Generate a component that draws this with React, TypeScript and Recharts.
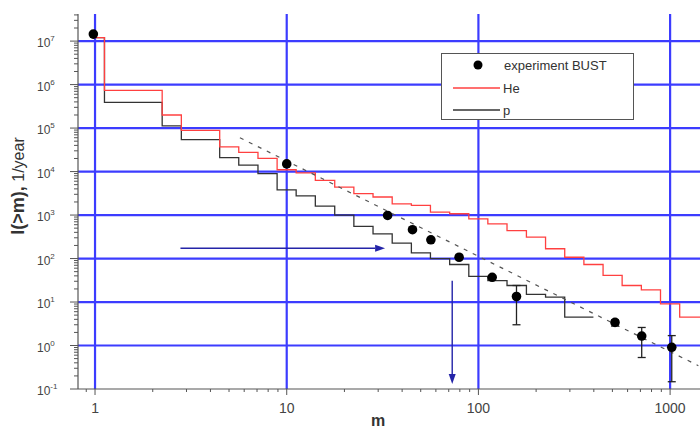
import React from 'react';
import { ComposedChart, Line, Scatter, XAxis, YAxis, ReferenceLine, ErrorBar, Legend } from 'recharts';

// He step histogram (bin start m, integral rate I(>m))
const heEdges = [0.97, 1.12, 2.24, 2.82, 4.47, 5.62, 7.08, 8.91, 11.2, 14.1, 17.8, 22.4, 28.2, 35.5, 44.7, 56.2, 70.8, 89.1, 112, 141, 178, 224, 282, 355, 447, 562, 708, 891, 1122];
const heValues = [1.2e7, 7.4e5, 2.0e5, 8.9e4, 3.7e4, 2.75e4, 2.0e4, 1.1e4, 9.3e3, 6.3e3, 4.4e3, 3.1e3, 2.6e3, 1.8e3, 1.67e3, 1.17e3, 1.07e3, 820, 630, 440, 310, 168, 107, 73, 41, 24, 19, 9.1, 4.5];
const heEnd = 1432;

// p step histogram
const pEdges = [0.97, 1.12, 2.24, 2.82, 4.47, 5.62, 7.08, 8.91, 11.2, 14.1, 17.8, 22.4, 28.2, 35.5, 44.7, 56.2, 70.8, 89.1, 112, 141, 178, 224, 282];
const pValues = [1.2e7, 3.9e5, 1.12e5, 5.4e4, 2.1e4, 1.4e4, 9.0e3, 3.8e3, 2.75e3, 1.6e3, 1.0e3, 550, 370, 225, 135, 100, 73, 39, 31, 24, 15, 13, 4.5];
const pEnd = 398;

// dashed power-law fit
const fitM = [5.7, 1404];
const fitI = [6.0e4, 0.344];

// experiment BUST points
const expM = [0.98, 10, 33.6, 45.3, 56.5, 79.3, 118, 158, 516, 711, 1020];
const expI = [1.45e7, 1.5e4, 980, 460, 270, 107, 37, 13.4, 3.4, 1.65, 0.91];
const expLo: (number | null)[] = [null, null, null, null, null, null, null, 3.0, 2.8, 0.53, 0.147];
const expHi: (number | null)[] = [null, null, null, null, null, null, null, 24, 3.9, 2.6, 1.69];

// arrows
const arrowHM = [2.79, 32.6];
const arrowHI = 173;
const arrowVM = 73;
const arrowVI = [31, 0.13];

// axes
const xDomain = [0.815, 1432];
const yDomain = [0.1, 4.2e7];
const xDecades = [1, 10, 100, 1000];
const xTickLabels = ['1', '10', '100', '1000'];
const yDecades = [0.1, 1, 10, 100, 1e3, 1e4, 1e5, 1e6, 1e7];
const yExponents = ['-1', '0', '1', '2', '3', '4', '5', '6', '7'];
const mantissas = [1, 2, 3, 4, 5, 6, 7, 8, 9];

const FONT = '"Liberation Sans", Arial, sans-serif';

const stepData = (edges: number[], vals: number[], end: number) => {
  const d = edges.map((m, i) => ({ m, v: vals[i] }));
  d.push({ m: end, v: vals[vals.length - 1] });
  return d;
};
const heData = stepData(heEdges, heValues, heEnd);
const pData = stepData(pEdges, pValues, pEnd);
const fitData = fitM.map((m, i) => ({ m, v: fitI[i] }));
const expData = expM.map((m, i) => ({
  m,
  v: expI[i],
  err: expLo[i] != null && expHi[i] != null ? [expI[i] - (expLo[i] as number), (expHi[i] as number) - expI[i]] : undefined,
}));

const buildTicks = (lo: number, hi: number) => {
  const out: number[] = [];
  for (let e = -2; e <= 8; e++) {
    for (const k of mantissas) {
      const v = parseFloat((k * Math.pow(10, e)).toPrecision(6));
      if (v >= lo && v <= hi) out.push(v);
    }
  }
  return out;
};
const xTicks = buildTicks(xDomain[0], xDomain[1]);
const yTicks = buildTicks(yDomain[0], yDomain[1]);

const isDecade = (v: number) => Math.abs(Math.log10(v) - Math.round(Math.log10(v))) < 1e-6;
const decIndex = (arr: number[], v: number) => arr.findIndex((d) => Math.abs(Math.log10(d) - Math.log10(v)) < 1e-6);

const XTick = (props: any) => {
  const { x, y, payload } = props;
  const v = payload.value;
  const idx = decIndex(xDecades, v);
  const major = isDecade(v);
  return (
    <g>
      <line x1={x} x2={x} y1={y} y2={y + (major ? 6 : 3)} stroke="#555" strokeWidth={1} />
      {idx >= 0 && (
        <text x={x} y={y + 24} textAnchor="middle" fontSize={14} fill="#444" fontFamily={FONT}>
          {xTickLabels[idx]}
        </text>
      )}
    </g>
  );
};

const YTick = (props: any) => {
  const { x, y, payload } = props;
  const v = payload.value;
  const idx = decIndex(yDecades, v);
  const major = idx >= 0;
  return (
    <g>
      <line x1={x - (major ? 8 : 4)} x2={x} y1={y} y2={y} stroke="#555" strokeWidth={1} />
      {major && (
        <text x={x - 41} y={y + 6} fontSize={12} fill="#444" fontFamily={FONT}>
          <tspan>10</tspan>
          <tspan dy={-6} fontSize={8}>{yExponents[idx]}</tspan>
        </text>
      )}
    </g>
  );
};

const ArrowShape = (props: any) => {
  const { x1, y1, x2, y2 } = props;
  if ([x1, y1, x2, y2].some((n) => n == null || isNaN(n))) return null;
  const ang = Math.atan2(y2 - y1, x2 - x1);
  const L = 10;
  const W = 3.5;
  const bx = x2 - L * Math.cos(ang);
  const by = y2 - L * Math.sin(ang);
  const px = -Math.sin(ang) * W;
  const py = Math.cos(ang) * W;
  return (
    <g>
      <line x1={x1} y1={y1} x2={bx} y2={by} stroke="#2424a8" strokeWidth={1.4} />
      <polygon points={`${x2},${y2} ${bx + px},${by + py} ${bx - px},${by - py}`} fill="#2424a8" />
    </g>
  );
};

const YLabel = () => (
  <text
    x={18}
    y={186}
    transform="rotate(-90, 18, 186)"
    textAnchor="middle"
    dominantBaseline="central"
    fontFamily={FONT}
    fill="#333"
  >
    <tspan fontWeight="bold" fontSize={18}>I(&gt;m),</tspan>
    <tspan fontSize={16}>{'  1/year'}</tspan>
  </text>
);

const XLabel = () => (
  <text x={378} y={426} textAnchor="middle" fontFamily={FONT} fontWeight="bold" fontSize={16} fill="#333">
    m
  </text>
);

const LegendBox = () => (
  <div style={{ width: 191, height: 65, border: '1.5px solid #555', background: '#fff', position: 'relative' }}>
    <svg width={191} height={65} style={{ position: 'absolute', left: 0, top: 0 }}>
      <circle cx={36} cy={11} r={4.5} fill="#000" />
      <text x={62} y={16} fontSize={13} fill="#333" fontFamily={FONT}>experiment BUST</text>
      <line x1={11} x2={58} y1={34} y2={34} stroke="#ff4040" strokeWidth={1.3} />
      <text x={61} y={39} fontSize={13} fill="#333" fontFamily={FONT}>He</text>
      <line x1={11} x2={58} y1={56} y2={56} stroke="#333" strokeWidth={1.3} />
      <text x={61} y={61} fontSize={13} fill="#333" fontFamily={FONT}>p</text>
    </svg>
  </div>
);

const gridStroke = '#3c3cff';

export default function App() {
  return (
    <div style={{ position: 'absolute', left: 0, top: 0, width: 700, height: 430, background: '#fff' }}>
      <ComposedChart width={700} height={430} margin={{ top: 14, right: 0, bottom: 0, left: 0 }}>
        <XAxis
          dataKey="m"
          type="number"
          scale="log"
          domain={xDomain}
          allowDataOverflow
          ticks={xTicks}
          interval={0}
          tick={<XTick />}
          tickLine={false}
          tickSize={0}
          tickMargin={0}
          height={41}
          axisLine={{ stroke: '#555', strokeWidth: 1.2 }}
          label={{ content: () => <XLabel /> }}
        />
        <YAxis
          type="number"
          scale="log"
          domain={yDomain}
          allowDataOverflow
          ticks={yTicks}
          interval={0}
          tick={<YTick />}
          tickLine={false}
          tickSize={0}
          tickMargin={0}
          width={78}
          axisLine={{ stroke: '#555', strokeWidth: 1.2 }}
          label={{ content: () => <YLabel /> }}
        />
        {xDecades.map((d) => (
          <ReferenceLine key={'gx' + d} x={d} stroke={gridStroke} strokeWidth={2.2} />
        ))}
        {yDecades.slice(1).map((d) => (
          <ReferenceLine key={'gy' + d} y={d} stroke={gridStroke} strokeWidth={2.2} />
        ))}
        <Line data={pData} dataKey="v" type="stepAfter" stroke="#333" strokeWidth={1.3} dot={false} isAnimationActive={false} name="p" />
        <Line data={heData} dataKey="v" type="stepAfter" stroke="#ff4040" strokeWidth={1.3} dot={false} isAnimationActive={false} name="He" />
        <Line data={fitData} dataKey="v" type="linear" stroke="#555" strokeWidth={1.2} strokeDasharray="4 6" dot={false} isAnimationActive={false} legendType="none" />
        <ReferenceLine
          segment={[{ x: arrowHM[0], y: arrowHI }, { x: arrowHM[1], y: arrowHI }]}
          shape={ArrowShape}
        />
        <ReferenceLine
          segment={[{ x: arrowVM, y: arrowVI[0] }, { x: arrowVM, y: arrowVI[1] }]}
          shape={ArrowShape}
        />
        <Scatter
          data={expData}
          dataKey="v"
          isAnimationActive={false}
          name="experiment BUST"
          shape={(p: any) => <circle cx={p.cx} cy={p.cy} r={4.8} fill="#000" />}
        >
          <ErrorBar dataKey="err" direction="y" width={4} stroke="#222" strokeWidth={1.3} isAnimationActive={false} />
        </Scatter>
        <Legend
          layout="vertical"
          align="center"
          verticalAlign="middle"
          content={() => <LegendBox />}
          wrapperStyle={{ left: 441, top: 53, width: 194, height: 68 }}
        />
      </ComposedChart>
    </div>
  );
}
